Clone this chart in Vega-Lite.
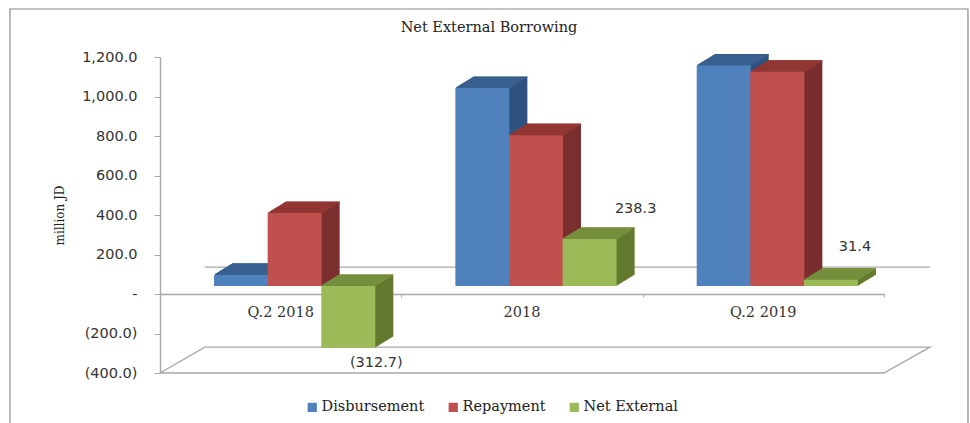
{"$schema":"https://vega.github.io/schema/vega-lite/v6.json","autosize":"none","background":"white","padding":{"left":160,"top":57,"right":86,"bottom":50},"width":724,"height":316,
"config":{"view":{"stroke":null}},
"title":{"text":"Net External Borrowing","font":"DejaVu Serif","fontSize":14.5,"fontWeight":"normal","color":"#222222","anchor":"middle","frame":"group","dx":-33,"offset":-29},
"datasets":{"flows":[
{"period":"Q.2 2018","series":"Disbursement","slot":"Q.2 2018 Disbursement","value":56.3},{"period":"Q.2 2018","series":"Repayment","slot":"Q.2 2018 Repayment","value":369},{"period":"Q.2 2018","series":"Net External","slot":"Q.2 2018 Net External","value":-312.7},
{"period":"2018","series":"Disbursement","slot":"2018 Disbursement","value":1002},{"period":"2018","series":"Repayment","slot":"2018 Repayment","value":763.7},{"period":"2018","series":"Net External","slot":"2018 Net External","value":238.3},
{"period":"Q.2 2019","series":"Disbursement","slot":"Q.2 2019 Disbursement","value":1116},{"period":"Q.2 2019","series":"Repayment","slot":"Q.2 2019 Repayment","value":1084.6},{"period":"Q.2 2019","series":"Net External","slot":"Q.2 2019 Net External","value":31.4}],
"walls":[
{"edge":"floor","seq":1,"cat":0,"level":-400},{"edge":"floor","seq":2,"cat":0.186,"level":-269},{"edge":"floor","seq":3,"cat":3.19,"level":-269},{"edge":"floor","seq":4,"cat":3,"level":-400},{"edge":"floor","seq":5,"cat":0,"level":-400},
{"edge":"back","seq":1,"cat":0.186,"level":136},{"edge":"back","seq":2,"cat":3.19,"level":136}],
"frame":[{"edge":"frame","seq":1,"cat":-0.6216,"level":-670},{"edge":"frame","seq":2,"cat":-0.6216,"level":1443},{"edge":"frame","seq":3,"cat":3.348,"level":1443},{"edge":"frame","seq":4,"cat":3.348,"level":-670}]},
"resolve":{"scale":{"x":"independent"}},
"layer":[
{"data":{"name":"frame"},"mark":{"type":"line","stroke":"#8a8a8a","strokeWidth":1.2},"encoding":{"x":{"field":"cat","type":"quantitative","scale":{"domain":[0,3],"nice":false,"zero":false},"axis":null},"y":{"field":"level","type":"quantitative","scale":{"domain":[-400,1200],"nice":false},"title":"million JD","axis":{"values":[-400,-200,0,200,400,600,800,1000,1200],"labelExpr":"datum.value==0?'-':format(datum.value,'(,.1f')","labelOverlap":false,"grid":false,"domain":true,"ticks":true,"labelFont":"DejaVu Sans","labelFontSize":14.5,"labelColor":"#333333","labelPadding":17,"domainColor":"#a8a8a8","domainWidth":1.4,"tickColor":"#a8a8a8","tickSize":6,"titleFont":"DejaVu Serif","titleFontSize":12,"titleFontWeight":"normal","titleColor":"#222222","titleX":-94,"titleY":158}},"order":{"field":"seq"}}},
{"data":{"name":"walls"},"mark":{"type":"line","stroke":"#a8a8a8","strokeWidth":1.4},"encoding":{"x":{"field":"cat","type":"quantitative","scale":{"domain":[0,3],"nice":false,"zero":false},"title":null,"axis":{"orient":"bottom","offset":-79,"values":[0,1,2,3],"labels":false,"grid":false,"domainColor":"#a8a8a8","domainWidth":1.4,"tickColor":"#a8a8a8","tickSize":3}},"y":{"field":"level","type":"quantitative","scale":{"domain":[-400,1200],"nice":false},"title":"million JD","axis":{"values":[-400,-200,0,200,400,600,800,1000,1200],"labelExpr":"datum.value==0?'-':format(datum.value,'(,.1f')","labelOverlap":false,"grid":false,"domain":true,"ticks":true,"labelFont":"DejaVu Sans","labelFontSize":14.5,"labelColor":"#333333","labelPadding":17,"domainColor":"#a8a8a8","domainWidth":1.4,"tickColor":"#a8a8a8","tickSize":6,"titleFont":"DejaVu Serif","titleFontSize":12,"titleFontWeight":"normal","titleColor":"#222222","titleX":-94,"titleY":158}},"detail":{"field":"edge"},"order":{"field":"seq"}}},
{"data":{"name":"flows"},
"encoding":{"x":{"field":"slot","type":"nominal","scale":{"domain":["_0","_1","Q.2 2018 Disbursement","_3","Q.2 2018 Repayment","_5","Q.2 2018 Net External","_7","_8","_9","_10","2018 Disbursement","_12","2018 Repayment","_14","2018 Net External","_16","_17","_18","_19","Q.2 2019 Disbursement","_21","Q.2 2019 Repayment","_23","Q.2 2019 Net External","_25","_26"],"paddingInner":0,"paddingOuter":0},"title":null,"axis":{"orient":"bottom","offset":-79,"values":["Q.2 2018 Repayment","2018 Repayment","Q.2 2019 Repayment"],"labelExpr":"replace(datum.value,' Repayment','')","labelAngle":0,"labelOverlap":false,"labelFont":"DejaVu Serif","labelFontSize":14.5,"labelColor":"#333333","labelPadding":11,"domain":false,"ticks":false}},
"y":{"field":"value","type":"quantitative","stack":null,"scale":{"domain":[-400,1200],"nice":false},"title":"million JD","axis":{"values":[-400,-200,0,200,400,600,800,1000,1200],"labelExpr":"datum.value==0?'-':format(datum.value,'(,.1f')","labelOverlap":false,"grid":false,"domain":true,"ticks":true,"labelFont":"DejaVu Sans","labelFontSize":14.5,"labelColor":"#333333","labelPadding":17,"domainColor":"#a8a8a8","domainWidth":1.4,"tickColor":"#a8a8a8","tickSize":6,"titleFont":"DejaVu Serif","titleFontSize":12,"titleFontWeight":"normal","titleColor":"#222222","titleX":-94,"titleY":158}}},
"layer":[
{"encoding":{"fill":{"field":"series","type":"nominal","scale":{"domain":["Net External","Repayment","Disbursement"],"range":["#64792F","#7A2F2E","#30527F"]},"legend":null},"stroke":{"field":"series","type":"nominal","scale":{"domain":["Repayment","Net External","Disbursement"],"range":["#923835","#768F3E","#3A618F"]},"legend":null}},
"layer":[
{"mark":{"type":"bar","width":54,"strokeWidth":0,"xOffset":32,"yOffset":-19,"y2Offset":-19},"encoding":{"y2":{"datum":0}}},
{"transform":[{"filter":"datum.value>=0"}],"mark":{"type":"rect","width":54,"strokeWidth":1,"xOffset":32,"yOffset":-19,"y2Offset":-19},"encoding":{"y2":{"field":"value"}}},
{"transform":[{"filter":"datum.value<0"}],"mark":{"type":"rect","width":54,"strokeWidth":1,"xOffset":32,"yOffset":-19,"y2Offset":-19},"encoding":{"y":{"datum":0},"y2":{"datum":0}}},
{"mark":{"type":"bar","width":54,"strokeWidth":0,"xOffset":31,"yOffset":-18.4,"y2Offset":-18.4},"encoding":{"y2":{"datum":0}}},
{"transform":[{"filter":"datum.value>=0"}],"mark":{"type":"rect","width":54,"strokeWidth":1,"xOffset":31,"yOffset":-18.4,"y2Offset":-18.4},"encoding":{"y2":{"field":"value"}}},
{"transform":[{"filter":"datum.value<0"}],"mark":{"type":"rect","width":54,"strokeWidth":1,"xOffset":31,"yOffset":-18.4,"y2Offset":-18.4},"encoding":{"y":{"datum":0},"y2":{"datum":0}}},
{"mark":{"type":"bar","width":54,"strokeWidth":0,"xOffset":30,"yOffset":-17.8,"y2Offset":-17.8},"encoding":{"y2":{"datum":0}}},
{"transform":[{"filter":"datum.value>=0"}],"mark":{"type":"rect","width":54,"strokeWidth":1,"xOffset":30,"yOffset":-17.8,"y2Offset":-17.8},"encoding":{"y2":{"field":"value"}}},
{"transform":[{"filter":"datum.value<0"}],"mark":{"type":"rect","width":54,"strokeWidth":1,"xOffset":30,"yOffset":-17.8,"y2Offset":-17.8},"encoding":{"y":{"datum":0},"y2":{"datum":0}}},
{"mark":{"type":"bar","width":54,"strokeWidth":0,"xOffset":29,"yOffset":-17.2,"y2Offset":-17.2},"encoding":{"y2":{"datum":0}}},
{"transform":[{"filter":"datum.value>=0"}],"mark":{"type":"rect","width":54,"strokeWidth":1,"xOffset":29,"yOffset":-17.2,"y2Offset":-17.2},"encoding":{"y2":{"field":"value"}}},
{"transform":[{"filter":"datum.value<0"}],"mark":{"type":"rect","width":54,"strokeWidth":1,"xOffset":29,"yOffset":-17.2,"y2Offset":-17.2},"encoding":{"y":{"datum":0},"y2":{"datum":0}}},
{"mark":{"type":"bar","width":54,"strokeWidth":0,"xOffset":28,"yOffset":-16.6,"y2Offset":-16.6},"encoding":{"y2":{"datum":0}}},
{"transform":[{"filter":"datum.value>=0"}],"mark":{"type":"rect","width":54,"strokeWidth":1,"xOffset":28,"yOffset":-16.6,"y2Offset":-16.6},"encoding":{"y2":{"field":"value"}}},
{"transform":[{"filter":"datum.value<0"}],"mark":{"type":"rect","width":54,"strokeWidth":1,"xOffset":28,"yOffset":-16.6,"y2Offset":-16.6},"encoding":{"y":{"datum":0},"y2":{"datum":0}}},
{"mark":{"type":"bar","width":54,"strokeWidth":0,"xOffset":27,"yOffset":-15.9,"y2Offset":-15.9},"encoding":{"y2":{"datum":0}}},
{"transform":[{"filter":"datum.value>=0"}],"mark":{"type":"rect","width":54,"strokeWidth":1,"xOffset":27,"yOffset":-15.9,"y2Offset":-15.9},"encoding":{"y2":{"field":"value"}}},
{"transform":[{"filter":"datum.value<0"}],"mark":{"type":"rect","width":54,"strokeWidth":1,"xOffset":27,"yOffset":-15.9,"y2Offset":-15.9},"encoding":{"y":{"datum":0},"y2":{"datum":0}}},
{"mark":{"type":"bar","width":54,"strokeWidth":0,"xOffset":26,"yOffset":-15.3,"y2Offset":-15.3},"encoding":{"y2":{"datum":0}}},
{"transform":[{"filter":"datum.value>=0"}],"mark":{"type":"rect","width":54,"strokeWidth":1,"xOffset":26,"yOffset":-15.3,"y2Offset":-15.3},"encoding":{"y2":{"field":"value"}}},
{"transform":[{"filter":"datum.value<0"}],"mark":{"type":"rect","width":54,"strokeWidth":1,"xOffset":26,"yOffset":-15.3,"y2Offset":-15.3},"encoding":{"y":{"datum":0},"y2":{"datum":0}}},
{"mark":{"type":"bar","width":54,"strokeWidth":0,"xOffset":25,"yOffset":-14.7,"y2Offset":-14.7},"encoding":{"y2":{"datum":0}}},
{"transform":[{"filter":"datum.value>=0"}],"mark":{"type":"rect","width":54,"strokeWidth":1,"xOffset":25,"yOffset":-14.7,"y2Offset":-14.7},"encoding":{"y2":{"field":"value"}}},
{"transform":[{"filter":"datum.value<0"}],"mark":{"type":"rect","width":54,"strokeWidth":1,"xOffset":25,"yOffset":-14.7,"y2Offset":-14.7},"encoding":{"y":{"datum":0},"y2":{"datum":0}}},
{"mark":{"type":"bar","width":54,"strokeWidth":0,"xOffset":24,"yOffset":-14.1,"y2Offset":-14.1},"encoding":{"y2":{"datum":0}}},
{"transform":[{"filter":"datum.value>=0"}],"mark":{"type":"rect","width":54,"strokeWidth":1,"xOffset":24,"yOffset":-14.1,"y2Offset":-14.1},"encoding":{"y2":{"field":"value"}}},
{"transform":[{"filter":"datum.value<0"}],"mark":{"type":"rect","width":54,"strokeWidth":1,"xOffset":24,"yOffset":-14.1,"y2Offset":-14.1},"encoding":{"y":{"datum":0},"y2":{"datum":0}}},
{"mark":{"type":"bar","width":54,"strokeWidth":0,"xOffset":23,"yOffset":-13.5,"y2Offset":-13.5},"encoding":{"y2":{"datum":0}}},
{"transform":[{"filter":"datum.value>=0"}],"mark":{"type":"rect","width":54,"strokeWidth":1,"xOffset":23,"yOffset":-13.5,"y2Offset":-13.5},"encoding":{"y2":{"field":"value"}}},
{"transform":[{"filter":"datum.value<0"}],"mark":{"type":"rect","width":54,"strokeWidth":1,"xOffset":23,"yOffset":-13.5,"y2Offset":-13.5},"encoding":{"y":{"datum":0},"y2":{"datum":0}}},
{"mark":{"type":"bar","width":54,"strokeWidth":0,"xOffset":22,"yOffset":-12.9,"y2Offset":-12.9},"encoding":{"y2":{"datum":0}}},
{"transform":[{"filter":"datum.value>=0"}],"mark":{"type":"rect","width":54,"strokeWidth":1,"xOffset":22,"yOffset":-12.9,"y2Offset":-12.9},"encoding":{"y2":{"field":"value"}}},
{"transform":[{"filter":"datum.value<0"}],"mark":{"type":"rect","width":54,"strokeWidth":1,"xOffset":22,"yOffset":-12.9,"y2Offset":-12.9},"encoding":{"y":{"datum":0},"y2":{"datum":0}}},
{"mark":{"type":"bar","width":54,"strokeWidth":0,"xOffset":21,"yOffset":-12.3,"y2Offset":-12.3},"encoding":{"y2":{"datum":0}}},
{"transform":[{"filter":"datum.value>=0"}],"mark":{"type":"rect","width":54,"strokeWidth":1,"xOffset":21,"yOffset":-12.3,"y2Offset":-12.3},"encoding":{"y2":{"field":"value"}}},
{"transform":[{"filter":"datum.value<0"}],"mark":{"type":"rect","width":54,"strokeWidth":1,"xOffset":21,"yOffset":-12.3,"y2Offset":-12.3},"encoding":{"y":{"datum":0},"y2":{"datum":0}}},
{"mark":{"type":"bar","width":54,"strokeWidth":0,"xOffset":20,"yOffset":-11.7,"y2Offset":-11.7},"encoding":{"y2":{"datum":0}}},
{"transform":[{"filter":"datum.value>=0"}],"mark":{"type":"rect","width":54,"strokeWidth":1,"xOffset":20,"yOffset":-11.7,"y2Offset":-11.7},"encoding":{"y2":{"field":"value"}}},
{"transform":[{"filter":"datum.value<0"}],"mark":{"type":"rect","width":54,"strokeWidth":1,"xOffset":20,"yOffset":-11.7,"y2Offset":-11.7},"encoding":{"y":{"datum":0},"y2":{"datum":0}}},
{"mark":{"type":"bar","width":54,"strokeWidth":0,"xOffset":19,"yOffset":-11.1,"y2Offset":-11.1},"encoding":{"y2":{"datum":0}}},
{"transform":[{"filter":"datum.value>=0"}],"mark":{"type":"rect","width":54,"strokeWidth":1,"xOffset":19,"yOffset":-11.1,"y2Offset":-11.1},"encoding":{"y2":{"field":"value"}}},
{"transform":[{"filter":"datum.value<0"}],"mark":{"type":"rect","width":54,"strokeWidth":1,"xOffset":19,"yOffset":-11.1,"y2Offset":-11.1},"encoding":{"y":{"datum":0},"y2":{"datum":0}}},
{"mark":{"type":"bar","width":54,"strokeWidth":0,"xOffset":18,"yOffset":-10.4,"y2Offset":-10.4},"encoding":{"y2":{"datum":0}}},
{"transform":[{"filter":"datum.value>=0"}],"mark":{"type":"rect","width":54,"strokeWidth":1,"xOffset":18,"yOffset":-10.4,"y2Offset":-10.4},"encoding":{"y2":{"field":"value"}}},
{"transform":[{"filter":"datum.value<0"}],"mark":{"type":"rect","width":54,"strokeWidth":1,"xOffset":18,"yOffset":-10.4,"y2Offset":-10.4},"encoding":{"y":{"datum":0},"y2":{"datum":0}}},
{"mark":{"type":"bar","width":54,"strokeWidth":0,"xOffset":17,"yOffset":-9.8,"y2Offset":-9.8},"encoding":{"y2":{"datum":0}}},
{"transform":[{"filter":"datum.value>=0"}],"mark":{"type":"rect","width":54,"strokeWidth":1,"xOffset":17,"yOffset":-9.8,"y2Offset":-9.8},"encoding":{"y2":{"field":"value"}}},
{"transform":[{"filter":"datum.value<0"}],"mark":{"type":"rect","width":54,"strokeWidth":1,"xOffset":17,"yOffset":-9.8,"y2Offset":-9.8},"encoding":{"y":{"datum":0},"y2":{"datum":0}}},
{"mark":{"type":"bar","width":54,"strokeWidth":0,"xOffset":16,"yOffset":-9.2,"y2Offset":-9.2},"encoding":{"y2":{"datum":0}}},
{"transform":[{"filter":"datum.value>=0"}],"mark":{"type":"rect","width":54,"strokeWidth":1,"xOffset":16,"yOffset":-9.2,"y2Offset":-9.2},"encoding":{"y2":{"field":"value"}}},
{"transform":[{"filter":"datum.value<0"}],"mark":{"type":"rect","width":54,"strokeWidth":1,"xOffset":16,"yOffset":-9.2,"y2Offset":-9.2},"encoding":{"y":{"datum":0},"y2":{"datum":0}}},
{"mark":{"type":"bar","width":54,"strokeWidth":0,"xOffset":15,"yOffset":-8.6,"y2Offset":-8.6},"encoding":{"y2":{"datum":0}}},
{"transform":[{"filter":"datum.value>=0"}],"mark":{"type":"rect","width":54,"strokeWidth":1,"xOffset":15,"yOffset":-8.6,"y2Offset":-8.6},"encoding":{"y2":{"field":"value"}}},
{"transform":[{"filter":"datum.value<0"}],"mark":{"type":"rect","width":54,"strokeWidth":1,"xOffset":15,"yOffset":-8.6,"y2Offset":-8.6},"encoding":{"y":{"datum":0},"y2":{"datum":0}}}
]},
{"mark":{"type":"bar","width":54,"xOffset":14,"yOffset":-8,"y2Offset":-8},"encoding":{"y2":{"datum":0},"color":{"field":"series","type":"nominal","sort":["Disbursement","Repayment","Net External"],"scale":{"domain":["Disbursement","Repayment","Net External"],"range":["#4F81BD","#C0504D","#9BBB59"]},"legend":{"title":null,"orient":"none","direction":"horizontal","columns":3,"legendX":145,"legendY":343,"symbolType":"square","symbolSize":85,"symbolStrokeWidth":0,"labelFont":"DejaVu Serif","labelFontSize":14.5,"labelColor":"#222222","columnPadding":21,"labelOffset":2}}}},
{"transform":[{"filter":"datum.series=='Net External' && datum.period=='2018'"}],"mark":{"type":"text","font":"DejaVu Sans","fontSize":14.5,"color":"#333333","dx":60,"dy":-38},"encoding":{"text":{"field":"value","format":"(,.1f"}}},
{"transform":[{"filter":"datum.series=='Net External' && datum.period=='Q.2 2019'"}],"mark":{"type":"text","font":"DejaVu Sans","fontSize":14.5,"color":"#333333","dx":38,"dy":-41},"encoding":{"text":{"field":"value","format":"(,.1f"}}},
{"transform":[{"filter":"datum.series=='Net External' && datum.period=='Q.2 2018'"}],"mark":{"type":"text","font":"DejaVu Sans","fontSize":14.5,"color":"#333333","dx":42,"dy":7},"encoding":{"text":{"field":"value","format":"(,.1f"}}}
]}
]}
